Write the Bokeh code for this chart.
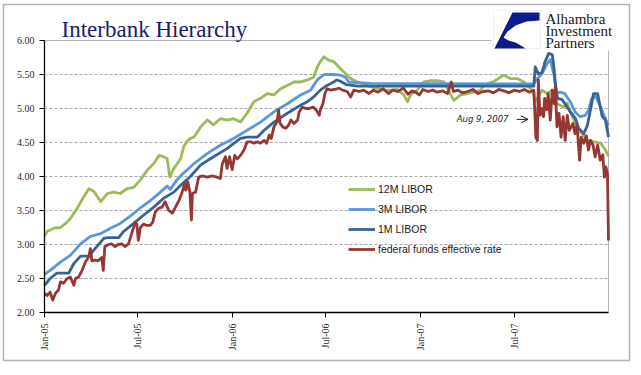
import pandas as pd
from bokeh.plotting import figure
from bokeh.models import (Range1d, FixedTicker, DatetimeTickFormatter, NumeralTickFormatter,
                          Legend, LegendItem, Label, BoxAnnotation, PolyAnnotation, Arrow, OpenHead)
from bokeh.embed import file_html
from bokeh.resources import INLINE

# ---------------- data ----------------
libor12_dates = ["2005-01-01", "2005-01-06", "2005-01-19", "2005-02-01", "2005-02-11", "2005-02-20",
                 "2005-03-05", "2005-03-18", "2005-03-28", "2005-04-07", "2005-04-20", "2005-05-03",
                 "2005-05-15", "2005-05-28", "2005-06-10", "2005-06-23", "2005-07-06", "2005-07-19",
                 "2005-08-01", "2005-08-11", "2005-08-20", "2005-08-27", "2005-09-01", "2005-09-09",
                 "2005-09-22", "2005-09-28", "2005-10-05", "2005-10-11", "2005-10-18", "2005-10-31",
                 "2005-11-13", "2005-11-25", "2005-12-08", "2005-12-21", "2006-01-03", "2006-01-16",
                 "2006-01-29", "2006-02-11", "2006-02-24", "2006-03-09", "2006-03-22", "2006-04-04",
                 "2006-04-17", "2006-04-30", "2006-05-13", "2006-05-26", "2006-06-07", "2006-06-14",
                 "2006-06-20", "2006-06-27", "2006-07-06", "2006-07-16", "2006-07-26", "2006-08-08",
                 "2006-08-18", "2006-08-31", "2006-09-12", "2006-09-25", "2006-10-08", "2006-10-21",
                 "2006-11-03", "2006-11-16", "2006-11-29", "2006-12-06", "2006-12-12", "2006-12-25",
                 "2007-01-07", "2007-01-20", "2007-02-02", "2007-02-15", "2007-02-28", "2007-03-06",
                 "2007-03-19", "2007-04-01", "2007-04-14", "2007-04-27", "2007-05-03", "2007-05-23",
                 "2007-06-11", "2007-06-24", "2007-07-07", "2007-07-20", "2007-08-02", "2007-08-08",
                 "2007-08-10", "2007-08-15", "2007-08-24", "2007-09-03", "2007-09-13", "2007-09-23",
                 "2007-10-05", "2007-10-12", "2007-10-18", "2007-10-25", "2007-10-31", "2007-11-10",
                 "2007-11-20", "2007-12-03", "2007-12-16", "2007-12-25", "2007-12-31"]
libor12_vals = [3.12, 3.19, 3.24, 3.25, 3.31, 3.38,
                3.53, 3.70, 3.82, 3.78, 3.63, 3.75,
                3.77, 3.75, 3.82, 3.84, 3.95, 4.09,
                4.19, 4.31, 4.29, 4.26, 3.99, 4.12,
                4.26, 4.44, 4.52, 4.56, 4.58, 4.73,
                4.83, 4.76, 4.85, 4.83, 4.85, 4.80,
                4.93, 5.10, 5.15, 5.22, 5.20, 5.29,
                5.34, 5.39, 5.39, 5.42, 5.46, 5.61,
                5.69, 5.76, 5.71, 5.69, 5.61, 5.51,
                5.44, 5.39, 5.36, 5.32, 5.30, 5.27,
                5.27, 5.28, 5.20, 5.10, 5.20, 5.27,
                5.39, 5.41, 5.41, 5.39, 5.20, 5.12,
                5.20, 5.22, 5.24, 5.27, 5.34, 5.40,
                5.49, 5.44, 5.44, 5.39, 5.29, 5.25,
                5.10, 5.15, 5.27, 5.22, 5.27, 5.07,
                5.02, 5.08, 4.95, 4.83, 4.68, 4.63,
                4.53, 4.51, 4.49, 4.39, 4.30]

libor3_dates = ["2005-01-01", "2005-01-12", "2005-02-01", "2005-02-20", "2005-03-12", "2005-03-31",
                "2005-04-20", "2005-05-09", "2005-05-28", "2005-06-17", "2005-07-06", "2005-07-26",
                "2005-08-14", "2005-08-27", "2005-09-02", "2005-09-15", "2005-09-26", "2005-10-05",
                "2005-10-18", "2005-11-13", "2005-12-08", "2006-01-03", "2006-01-29", "2006-02-24",
                "2006-03-22", "2006-04-17", "2006-05-13", "2006-06-01", "2006-06-14", "2006-06-27",
                "2006-07-16", "2006-07-29", "2006-08-08", "2006-08-14", "2006-09-25", "2007-08-08",
                "2007-08-15", "2007-08-24", "2007-09-03", "2007-09-09", "2007-09-16", "2007-09-21",
                "2007-09-28", "2007-10-07", "2007-10-18", "2007-10-27", "2007-11-06", "2007-11-16",
                "2007-11-22", "2007-11-28", "2007-12-06", "2007-12-16", "2007-12-22", "2007-12-31"]
libor3_vals = [2.56, 2.62, 2.74, 2.84, 3.01, 3.12,
               3.16, 3.24, 3.31, 3.42, 3.54, 3.65,
               3.77, 3.86, 3.81, 3.95, 4.04, 4.10,
               4.19, 4.34, 4.46, 4.56, 4.68, 4.80,
               4.95, 5.07, 5.20, 5.27, 5.42, 5.50,
               5.50, 5.49, 5.46, 5.39, 5.37, 5.36,
               5.44, 5.51, 5.66, 5.72, 5.51, 5.22,
               5.24, 5.22, 5.10, 4.95, 4.88, 4.90,
               4.97, 5.14, 5.18, 5.02, 4.90, 4.75]

libor1_dates = ["2005-01-01", "2005-01-12", "2005-01-25", "2005-02-17", "2005-02-27", "2005-03-12",
                "2005-03-28", "2005-04-07", "2005-04-26", "2005-05-03", "2005-05-25", "2005-06-03",
                "2005-06-23", "2005-07-12", "2005-08-01", "2005-08-20", "2005-09-09", "2005-09-22",
                "2005-10-11", "2005-10-31", "2005-11-25", "2005-12-21", "2006-01-16", "2006-01-29",
                "2006-02-18", "2006-03-03", "2006-03-22", "2006-04-17", "2006-05-13", "2006-05-26",
                "2006-06-07", "2006-06-20", "2006-07-03", "2006-07-16", "2006-07-22", "2006-07-29",
                "2006-08-10", "2006-09-01", "2007-08-08", "2007-08-11", "2007-08-17", "2007-08-24",
                "2007-08-30", "2007-09-06", "2007-09-13", "2007-09-16", "2007-09-19", "2007-09-23",
                "2007-10-02", "2007-10-12", "2007-10-18", "2007-10-28", "2007-11-03", "2007-11-13",
                "2007-11-20", "2007-11-27", "2007-12-02", "2007-12-10", "2007-12-15", "2007-12-19",
                "2007-12-25", "2007-12-31"]
libor1_vals = [2.40, 2.50, 2.58, 2.58, 2.72, 2.83,
               2.83, 2.92, 3.09, 3.10, 3.10, 3.19,
               3.31, 3.43, 3.55, 3.68, 3.77, 3.87,
               4.00, 4.17, 4.29, 4.41, 4.56, 4.58,
               4.58, 4.68, 4.80, 4.93, 5.05, 5.10,
               5.17, 5.27, 5.34, 5.39, 5.42, 5.40,
               5.35, 5.33, 5.33, 5.61, 5.51, 5.53,
               5.69, 5.81, 5.79, 5.61, 5.37, 5.15,
               5.13, 5.02, 4.95, 4.85, 4.71, 4.63,
               4.75, 5.02, 5.22, 5.22, 5.02, 4.88,
               4.83, 4.58]

ff_dates = ["2005-01-01", "2005-01-06", "2005-01-12", "2005-01-17", "2005-01-22", "2005-01-28",
            "2005-02-01", "2005-02-07", "2005-02-14", "2005-02-20", "2005-02-27", "2005-03-02",
            "2005-03-08", "2005-03-15", "2005-03-21", "2005-03-28", "2005-03-31", "2005-04-03",
            "2005-04-09", "2005-04-15", "2005-04-22", "2005-04-25", "2005-04-28", "2005-05-05",
            "2005-05-11", "2005-05-18", "2005-05-24", "2005-05-31", "2005-06-06", "2005-06-13",
            "2005-06-19", "2005-06-26", "2005-06-29", "2005-07-02", "2005-07-06", "2005-07-12",
            "2005-07-19", "2005-07-25", "2005-07-30", "2005-08-04", "2005-08-10", "2005-08-17",
            "2005-08-23", "2005-08-30", "2005-09-06", "2005-09-12", "2005-09-19", "2005-09-25",
            "2005-09-30", "2005-10-02", "2005-10-06", "2005-10-10", "2005-10-13", "2005-10-15",
            "2005-10-21", "2005-10-27", "2005-11-03", "2005-11-13", "2005-11-22", "2005-12-02",
            "2005-12-08", "2005-12-12", "2005-12-18", "2005-12-21", "2005-12-26", "2005-12-31",
            "2006-01-05", "2006-01-10", "2006-01-16", "2006-01-23", "2006-01-29", "2006-02-05",
            "2006-02-11", "2006-02-18", "2006-02-24", "2006-03-03", "2006-03-08", "2006-03-13",
            "2006-03-17", "2006-03-22", "2006-03-28", "2006-03-31", "2006-04-03", "2006-04-08",
            "2006-04-14", "2006-04-19", "2006-04-24", "2006-04-30", "2006-05-07", "2006-05-10",
            "2006-05-16", "2006-05-23", "2006-05-29", "2006-06-06", "2006-06-12", "2006-06-18",
            "2006-06-20", "2006-06-25", "2006-06-29", "2006-07-03", "2006-07-10", "2006-07-22",
            "2006-07-26", "2006-08-02", "2006-08-11", "2006-08-18", "2006-08-24", "2006-09-03",
            "2006-09-12", "2006-09-22", "2006-10-01", "2006-10-10", "2006-10-20", "2006-10-30",
            "2006-11-08", "2006-11-17", "2006-11-28", "2006-12-07", "2006-12-15", "2006-12-22",
            "2006-12-29", "2007-01-05", "2007-01-15", "2007-01-24", "2007-02-02", "2007-02-12",
            "2007-02-22", "2007-03-01", "2007-03-05", "2007-03-14", "2007-03-23", "2007-04-02",
            "2007-04-12", "2007-04-22", "2007-05-02", "2007-05-12", "2007-05-22", "2007-06-01",
            "2007-06-11", "2007-06-21", "2007-07-01", "2007-07-11", "2007-07-21", "2007-07-31",
            "2007-08-08", "2007-08-10", "2007-08-12", "2007-08-15", "2007-08-17", "2007-08-20",
            "2007-08-23", "2007-08-27", "2007-08-29", "2007-09-02", "2007-09-05", "2007-09-09",
            "2007-09-13", "2007-09-17", "2007-09-19", "2007-09-22", "2007-09-26", "2007-09-30",
            "2007-10-04", "2007-10-08", "2007-10-12", "2007-10-16", "2007-10-23", "2007-10-27",
            "2007-10-31", "2007-11-05", "2007-11-08", "2007-11-13", "2007-11-18", "2007-11-22",
            "2007-11-26", "2007-12-01", "2007-12-05", "2007-12-10", "2007-12-15", "2007-12-20",
            "2007-12-23", "2007-12-26", "2007-12-29", "2007-12-31"]
ff_vals = [2.28, 2.25, 2.30, 2.18, 2.28, 2.33,
           2.45, 2.43, 2.50, 2.52, 2.40, 2.50,
           2.52, 2.62, 2.74, 2.82, 2.94, 2.76,
           2.77, 2.76, 2.81, 2.62, 2.97, 3.00,
           3.01, 2.97, 3.00, 3.01, 2.97, 3.01,
           3.16, 3.33, 3.30, 3.06, 3.25, 3.30,
           3.28, 3.28, 3.33, 3.48, 3.53, 3.55,
           3.63, 3.50, 3.46, 3.55, 3.65, 3.77,
           3.90, 3.80, 3.92, 3.77, 3.36, 3.75,
           3.77, 3.99, 4.01, 3.99, 4.01, 3.99,
           3.97, 4.19, 4.29, 4.12, 4.29, 4.10,
           4.31, 4.26, 4.31, 4.39, 4.51, 4.51,
           4.49, 4.51, 4.49, 4.53, 4.49, 4.61,
           4.56, 4.73, 4.80, 4.98, 4.78, 4.73,
           4.71, 4.75, 4.83, 4.78, 4.83, 4.95,
           5.02, 5.00, 5.00, 5.02, 4.98, 4.90,
           4.98, 5.07, 5.22, 5.29, 5.27, 5.29,
           5.30, 5.27, 5.25, 5.17, 5.27, 5.25,
           5.27, 5.22, 5.27, 5.24, 5.29, 5.22,
           5.27, 5.25, 5.30, 5.21, 5.26, 5.24,
           5.20, 5.28, 5.25, 5.27, 5.24, 5.26,
           5.22, 5.39, 5.25, 5.27, 5.23, 5.25,
           5.28, 5.22, 5.25, 5.26, 5.23, 5.28,
           5.26, 5.23, 5.27, 5.25, 5.28, 5.24,
           5.27, 4.98, 4.58, 4.53, 5.42, 4.90,
           5.00, 4.88, 5.15, 4.98, 5.22, 4.83,
           5.27, 5.07, 5.32, 4.73, 4.93, 4.58,
           4.88, 4.53, 4.90, 4.68, 4.78, 4.63,
           4.75, 4.24, 4.58, 4.49, 4.60, 4.39,
           4.53, 4.46, 4.29, 4.46, 4.24, 4.32,
           3.99, 4.14, 4.04, 3.06]

series_names = ["12M LIBOR", "3M LIBOR", "1M LIBOR", "federal funds effective rate"]
series_colors = ["#9bbb59", "#5a96d8", "#3a6293", "#953735"]

tick_dates = ["2005-01-01", "2005-07-01", "2006-01-01", "2006-07-01", "2007-01-01", "2007-07-01"]
y_ticks = [2.0, 2.5, 3.0, 3.5, 4.0, 4.5, 5.0, 5.5, 6.0]
grid_ticks = [2.5, 3.0, 3.5, 4.0, 4.5, 5.0, 5.5]

x_start, x_end = "2005-01-01", "2007-12-31"
y_min, y_max = 2.0, 6.0
event_date = "2007-08-09"

# ---------------- layout ----------------
W, H = 641, 375
PL, PR, PT, PB = 44, 608, 40, 312     # plot-area box on the canvas (pixels)


def ms(d):
    return pd.Timestamp(d).value // 10**6


DAY = 86400000
ms_per_px = (ms(x_end) - ms(x_start)) / (PR - PL)
u_per_px = (y_max - y_min) / (PB - PT)
x_lo = ms(x_start) - PL * ms_per_px
x_hi = ms(x_end) + (W - PR) * ms_per_px
y_lo = y_min - (H - PB) * u_per_px
y_hi = y_max + PT * u_per_px


def sx(px):          # canvas pixel -> screen units (frame == whole canvas)
    return px


def sy(py):
    return H - py


p = figure(width=W, height=H, x_axis_type="datetime", output_backend="svg",
           toolbar_location=None, min_border=0,
           x_range=Range1d(x_lo, x_hi), y_range=Range1d(y_lo, y_hi))
p.background_fill_color = "white"
p.border_fill_color = "white"
p.outline_line_color = None
p.xgrid.grid_line_color = None
p.ygrid.grid_line_color = None

# dashed horizontal gridlines inside the plot area
p.segment(x0=[ms(x_start)] * len(grid_ticks), x1=[ms(x_end)] * len(grid_ticks),
          y0=grid_ticks, y1=grid_ticks, line_color="#a6a6a6", line_dash="3 2", line_width=1)
# plot-area border (top and right, light grey)
p.line(x=[ms(x_start), ms(x_end), ms(x_end)], y=[y_max, y_max, y_min],
       line_color="#b3b3b3", line_width=1)

xa = p.xaxis[0]
xa.fixed_location = y_min
xa.bounds = (ms(x_start), ms(x_end))
xa.ticker = FixedTicker(ticks=[ms(d) for d in tick_dates])
fmt = "%b-%y"
xa.formatter = DatetimeTickFormatter(microseconds=fmt, milliseconds=fmt, seconds=fmt, minsec=fmt,
                                     minutes=fmt, hourmin=fmt, hours=fmt, days=fmt, months=fmt, years=fmt)
xa.major_label_orientation = 3.14159265 / 2
xa.major_label_text_font = "Liberation Serif"
xa.major_label_text_font_size = "10px"
xa.major_label_text_color = "#262626"
xa.major_label_standoff = 6
xa.axis_line_color = "black"
xa.axis_line_width = 1.3
xa.major_tick_line_color = "black"
xa.major_tick_out = 5
xa.major_tick_in = 0
xa.minor_tick_line_color = None

ya = p.yaxis[0]
ya.fixed_location = ms(x_start)
ya.bounds = (y_min, y_max)
ya.ticker = FixedTicker(ticks=y_ticks)
ya.formatter = NumeralTickFormatter(format="0.00")
ya.major_label_text_font = "Liberation Serif"
ya.major_label_text_font_size = "10px"
ya.major_label_text_color = "#262626"
ya.major_label_standoff = 5
ya.axis_line_color = "black"
ya.axis_line_width = 1.3
ya.major_tick_line_color = "black"
ya.major_tick_out = 5
ya.major_tick_in = 0
ya.minor_tick_line_color = None

all_dates = [libor12_dates, libor3_dates, libor1_dates, ff_dates]
all_vals = [libor12_vals, libor3_vals, libor1_vals, ff_vals]
items = []
for name, color, ds, vs in zip(series_names, series_colors, all_dates, all_vals):
    r = p.line(pd.to_datetime(ds), vs, line_color=color, line_width=2.8, line_join="round")
    items.append(LegendItem(label=name, renderers=[r]))

legend = Legend(items=items, location=(sx(348), sy(259)), orientation="vertical",
                glyph_width=27, glyph_height=20, label_height=20, label_standoff=3,
                spacing=0, padding=0, margin=0, border_line_alpha=0, background_fill_alpha=0,
                label_text_font="Liberation Sans", label_text_font_size="10.5px",
                label_text_color="#1a1a1a")
p.add_layout(legend)

# annotation: Aug 9, 2007
ann_y = 4.84
p.add_layout(Label(x=ms(event_date) - 50 * DAY, y=ann_y, text="Aug 9, 2007",
                   text_font="DejaVu Sans", text_font_style="italic", text_font_size="8.5px",
                   text_align="right", text_baseline="middle", text_color="#1a1a1a"))
p.add_layout(Arrow(end=OpenHead(size=7, line_width=1, line_color="#1a1a1a"),
                   x_start=ms(event_date) - 34 * DAY, y_start=ann_y,
                   x_end=ms(event_date) - 12 * DAY, y_end=ann_y,
                   line_width=1, line_color="#1a1a1a"))

# title
p.add_layout(Label(x=sx(61), y=sy(29), x_units="screen", y_units="screen", text="Interbank Hierarchy",
                   text_font="Liberation Serif", text_font_size="23px", text_color="#1b1b6f",
                   text_baseline="alphabetic"))

# logo (white backing, box, swoosh, text) -- all at annotation level, in drawing order
p.add_layout(BoxAnnotation(left=sx(491), right=sx(625), top=sy(4.5), bottom=sy(50),
                           left_units="screen", right_units="screen", top_units="screen",
                           bottom_units="screen", fill_color="white", fill_alpha=1,
                           line_alpha=0, level="annotation"))
p.add_layout(BoxAnnotation(left=sx(493), right=sx(540), top=sy(10), bottom=sy(48),
                           left_units="screen", right_units="screen", top_units="screen",
                           bottom_units="screen", fill_alpha=0, line_color="#c8c8c8",
                           line_width=1, level="annotation"))
sw_x = [512, 539, 539, 526, 515, 507, 503, 508, 515, 522, 525, 494]
sw_y = [12, 12, 20, 21, 25, 31, 37, 40, 42, 46, 48, 48]
p.add_layout(PolyAnnotation(xs=[sx(v) for v in sw_x], ys=[sy(v) for v in sw_y],
                            xs_units="screen", ys_units="screen", fill_color="#0b1b8c",
                            fill_alpha=1, line_alpha=0, level="annotation"))
for t, yy in zip(["Alhambra", "Investment", "Partners"], [18, 30, 42]):
    p.add_layout(Label(x=sx(545), y=sy(yy), x_units="screen", y_units="screen", text=t,
                       text_font="Liberation Serif", text_font_size="15px", text_color="#1a1a1a",
                       text_baseline="middle", level="overlay"))

# outer frame
p.add_layout(BoxAnnotation(left=sx(3), right=sx(629), top=sy(4), bottom=sy(360),
                           left_units="screen", right_units="screen", top_units="screen",
                           bottom_units="screen", fill_alpha=0, line_color="black",
                           line_width=1.5, level="overlay"))

open("out.html", "w").write(file_html(p, INLINE))
